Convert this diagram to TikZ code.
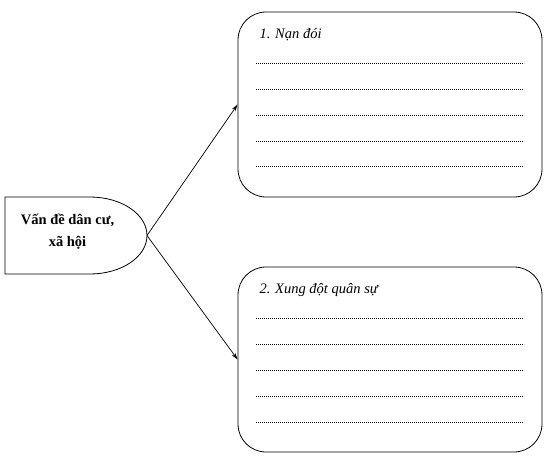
\documentclass[tikz,border=0pt]{standalone}
\usepackage{fontspec}
\setmainfont{Liberation Serif}
\usetikzlibrary{arrows.meta,positioning}

\tikzset{
  answerbox/.style={draw, line width=0.8pt, rounded corners=28pt, minimum width=304pt, minimum height=185pt},
  dotline/.style={line width=0.6pt, dash pattern=on 0.9pt off 1.1pt},
  link/.style={line width=0.7pt, -{Stealth[length=7pt,width=4pt]}}
}

\begin{document}
\begin{tikzpicture}[x=1pt, y=-1pt, font=\fontsize{14.5}{17}\selectfont]
  \useasboundingbox (0,0) rectangle (554,471);
  % left shape
  \draw[line width=0.8pt] (5,197) -- (90,197) arc[start angle=-90, end angle=90, x radius=57, y radius=38.5] -- (5,274) -- cycle;
  \node[font=\bfseries\fontsize{14.5}{22}\selectfont, align=center] (topic) at (67.5,232) {Vấn đề dân cư,\\xã hội};
  \coordinate (src) at (147,235.5);
  % boxes
  \node[answerbox] (famine) at (390,104.5) {};
  \node[answerbox] (conflict) at (390,359.5) {};
  \node[anchor=base west, font=\itshape\fontsize{14.5}{17}\selectfont] (famtitle) at (256,38) {1. Nạn đói};
  \node[anchor=base west, font=\itshape\fontsize{14.5}{17}\selectfont] (contitle) at (256,293) {2. Xung đột quân sự};
  \foreach \y in {63,89,115,141,166}
    \draw[dotline] (256,\y) -- (524,\y);
  \foreach \y in {318,344,370,396,422}
    \draw[dotline] (256,\y) -- (524,\y);
  % arrows
  \draw[link] (src) -- (famine.west);
  \draw[link] (src) -- (conflict.west);
\end{tikzpicture}
\end{document}
